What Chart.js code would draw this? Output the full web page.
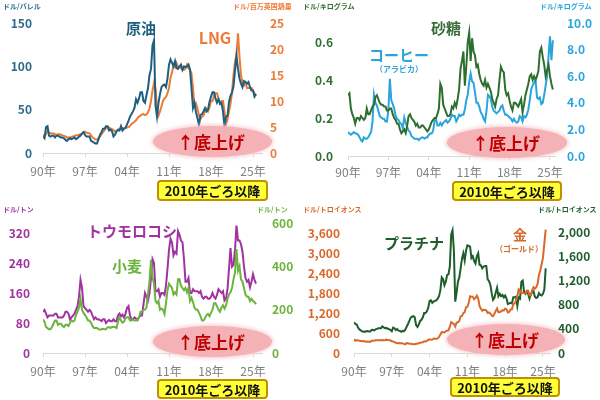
<!DOCTYPE html>
<html lang="ja">
<head>
<meta charset="UTF-8">
<title>商品価格の推移</title>
<script src="https://cdn.jsdelivr.net/npm/chart.js@4.4.1/dist/chart.umd.min.js"></script>
<style>
  body {
    margin: 0;
    width: 600px;
    height: 400px;
    position: relative;
    overflow: hidden;
    background: #fff;
    font-family: "Noto Sans CJK JP", "Noto Sans", sans-serif;
  }
  canvas { position: absolute; }
  .lbl {
    position: absolute;
    transform: translate(-50%, -50%);
    white-space: nowrap;
    font-weight: bold;
    line-height: 1;
  }
  .unit {
    position: absolute;
    font-size: 7px;
    font-weight: bold;
    white-space: nowrap;
    line-height: 1;
  }
  .oval {
    position: absolute;
    border-radius: 50%;
    background: #f4b1b6;
    box-shadow: 0 0 4px 1px #f7c6ca;
  }
  .since {
    position: absolute;
    box-sizing: border-box;
    background: #ffff3a;
    border: 2px solid #bf9000;
    border-radius: 4px;
    font-size: 13px;
    font-weight: bold;
    line-height: 17px;
    text-align: center;
    color: #111;
  }
  .up { color: #c00000; font-size: 17px; }
</style>
</head>
<body>

<canvas id="oil" width="300" height="200" style="left:0;top:0"></canvas>
<canvas id="soft" width="300" height="200" style="left:300px;top:0"></canvas>
<canvas id="grain" width="300" height="200" style="left:0;top:200px"></canvas>
<canvas id="metal" width="300" height="200" style="left:300px;top:200px"></canvas>

<!-- 原油 / LNG -->
<div class="unit" style="left:3px;top:3px;color:#2b6a8a">ドル/バレル</div>
<div class="unit" style="left:233px;top:3px;color:#ec7b36">ドル/百万英国熱量</div>
<div class="lbl" style="left:141px;top:27px;font-size:15px;color:#1d5f80">原油</div>
<div class="lbl" style="left:215px;top:37px;font-size:16px;color:#ec7b36">LNG</div>
<div class="oval" style="left:153px;top:126px;width:119px;height:31px"></div>
<div class="lbl up" style="left:211px;top:141px">↑底上げ</div>
<div class="since" style="left:157px;top:180px;width:111px;height:21px">2010年ごろ以降</div>

<!-- 砂糖 / コーヒー -->
<div class="unit" style="left:303px;top:3px;color:#2f6f2f">ドル/キログラム</div>
<div class="unit" style="left:540px;top:3px;color:#2aa5dc">ドル/キログラム</div>
<div class="lbl" style="left:446px;top:27px;font-size:15px;color:#3a6e3a">砂糖</div>
<div class="lbl" style="left:399px;top:54px;font-size:15px;color:#2aa5dc">コーヒー</div>
<div class="lbl" style="left:399px;top:69px;font-size:8px;color:#2aa5dc">（アラビカ）</div>
<div class="oval" style="left:447px;top:127px;width:120px;height:31px"></div>
<div class="lbl up" style="left:506px;top:142px">↑底上げ</div>
<div class="since" style="left:452px;top:181px;width:110px;height:20px">2010年ごろ以降</div>

<!-- トウモロコシ / 小麦 -->
<div class="unit" style="left:3px;top:206px;color:#a033a0">ドル/トン</div>
<div class="unit" style="left:257px;top:206px;color:#6cb33f">ドル/トン</div>
<div class="lbl" style="left:132px;top:230px;font-size:15px;color:#a033a0">トウモロコシ</div>
<div class="lbl" style="left:127px;top:265px;font-size:15px;color:#6cb33f">小麦</div>
<div class="oval" style="left:153px;top:326px;width:119px;height:31px"></div>
<div class="lbl up" style="left:211px;top:341px">↑底上げ</div>
<div class="since" style="left:157px;top:379px;width:111px;height:20px">2010年ごろ以降</div>

<!-- プラチナ / 金 -->
<div class="unit" style="left:303px;top:206px;color:#d9692a">ドル/トロイオンス</div>
<div class="unit" style="left:538px;top:206px;color:#1d5e2c">ドル/トロイオンス</div>
<div class="lbl" style="left:414px;top:242px;font-size:15px;color:#1d5e2c">プラチナ</div>
<div class="lbl" style="left:520px;top:234px;font-size:14px;color:#d9692a">金</div>
<div class="lbl" style="left:519px;top:249px;font-size:8px;color:#d9692a">（ゴールド）</div>
<div class="oval" style="left:447px;top:324px;width:118px;height:31px"></div>
<div class="lbl up" style="left:505px;top:339px">↑底上げ</div>
<div class="since" style="left:450px;top:377px;width:110px;height:20px">2010年ごろ以降</div>

<script>
// quarterly values, 1990 Q1 .. 2025 Q3
var crudeOil = [
    19, 17, 30, 31,  20, 19, 20, 20,  18, 20, 20, 19,  18, 18, 17, 15,
    14, 16, 17, 16,  17, 18, 16, 17,  19, 20, 22, 24,  21, 19, 19, 19,
    14, 13, 12, 11,  11, 16, 21, 24,  28, 28, 31, 31,  26, 27, 25, 19,
    21, 25, 27, 26,  31, 26, 28, 29,  33, 37, 42, 45,  48, 52, 62, 58,
    63, 70, 70, 60,  58, 67, 75, 90,  97, 124, 130, 55,  42, 58, 68, 76,
    78, 79, 76, 86,  102, 108, 104, 100,  106, 98, 97, 100,  102, 96, 100, 99,
    100, 102, 96, 75,  52, 58, 47, 40,  32, 44, 45, 48,  52, 48, 50, 59,
    65, 70, 70, 63,  58, 62, 57, 58,  48, 30, 42, 43,  59, 66, 70, 77,
    95, 112, 97, 86,  80, 76, 83, 82,  80, 82, 76, 72,  72, 65, 68
];
var lng = [
    3.5, 3.3, 3.6, 4.2,  4.0, 3.8, 3.7, 3.8,  3.6, 3.5, 3.6, 3.6,  3.5, 3.4, 3.3, 3.2,
    3.0, 3.0, 3.0, 3.1,  3.2, 3.3, 3.4, 3.4,  3.5, 3.6, 3.8, 4.0,  4.1, 3.9, 3.8, 3.8,
    3.4, 3.0, 2.8, 2.6,  2.6, 2.8, 3.2, 3.6,  4.0, 4.4, 4.8, 5.0,  4.9, 4.7, 4.6, 4.4,
    4.1, 4.2, 4.3, 4.5,  4.7, 4.8, 4.7, 4.8,  4.9, 5.0, 5.2, 5.6,  5.8, 6.0, 6.3, 6.7,
    7.0, 7.2, 7.4, 7.5,  7.3, 7.4, 7.8, 8.6,  10.0, 12.0, 13.5, 12.5,  8.5, 7.2, 8.0, 9.0,
    10.0, 10.5, 10.8, 11.5,  12.5, 14.5, 15.5, 17.0,  16.5, 17.3, 16.5, 16.5,  16.3, 16.0, 16.0, 16.2,
    17.0, 16.3, 16.0, 15.3,  12.5, 9.0, 9.5, 8.5,  7.2, 6.5, 7.0, 7.2,  8.0, 8.5, 8.0, 8.8,
    10.0, 10.0, 11.0, 11.5,  11.5, 10.5, 9.5, 10.0,  10.0, 8.0, 5.5, 6.5,  8.0, 9.5, 11.5, 15.0,
    17.5, 19.0, 23.0, 18.5,  15.0, 13.5, 13.0, 13.5,  12.5, 12.5, 12.5, 12.5,  12.0, 11.5, 11.0
];
var sugar = [
    0.32, 0.33, 0.25, 0.22,  0.20, 0.17, 0.20, 0.20,  0.19, 0.21, 0.20, 0.19,  0.20, 0.25, 0.22, 0.22,
    0.24, 0.26, 0.27, 0.31,  0.32, 0.30, 0.28, 0.27,  0.27, 0.26, 0.26, 0.24,  0.24, 0.25, 0.25, 0.22,
    0.20, 0.19, 0.17, 0.17,  0.14, 0.12, 0.13, 0.14,  0.12, 0.16, 0.21, 0.22,  0.20, 0.19, 0.18, 0.16,
    0.17, 0.15, 0.15, 0.16,  0.16, 0.15, 0.14, 0.13,  0.14, 0.16, 0.18, 0.19,  0.20, 0.20, 0.22, 0.25,
    0.38, 0.36, 0.27, 0.25,  0.23, 0.21, 0.21, 0.22,  0.26, 0.25, 0.28, 0.26,  0.30, 0.35, 0.46, 0.50,
    0.55, 0.37, 0.47, 0.60,  0.65, 0.50, 0.62, 0.55,  0.53, 0.47, 0.48, 0.43,  0.40, 0.38, 0.37, 0.40,
    0.36, 0.38, 0.36, 0.34,  0.30, 0.28, 0.26, 0.30,  0.32, 0.40, 0.47, 0.45,  0.44, 0.35, 0.32, 0.33,
    0.29, 0.26, 0.24, 0.28,  0.28, 0.27, 0.26, 0.28,  0.30, 0.23, 0.27, 0.32,  0.35, 0.38, 0.42, 0.43,
    0.40, 0.42, 0.40, 0.42,  0.45, 0.55, 0.57, 0.52,  0.48, 0.42, 0.45, 0.48,  0.42, 0.38, 0.35
];
var coffee = [
    1.8, 1.7, 1.6, 1.7,  1.8, 1.7, 1.7, 1.6,  1.4, 1.2, 1.1, 1.4,  1.3, 1.3, 1.4, 1.6,
    1.8, 2.6, 4.6, 4.0,  3.8, 3.4, 3.0, 2.9,  2.8, 2.8, 2.6, 2.6,  3.5, 5.8, 4.2, 3.9,
    3.6, 3.0, 2.8, 2.7,  2.5, 2.4, 2.1, 2.9,  2.5, 2.2, 1.9, 1.8,  1.5, 1.4, 1.3, 1.3,
    1.3, 1.2, 1.3, 1.4,  1.4, 1.3, 1.4, 1.4,  1.6, 1.7, 1.7, 1.9,  2.6, 2.8, 2.3, 2.3,
    2.5, 2.3, 2.5, 2.6,  2.7, 2.5, 2.6, 2.8,  3.1, 3.0, 3.0, 2.6,  2.8, 3.1, 3.0, 3.1,
    3.1, 3.5, 4.2, 4.6,  5.6, 6.2, 5.6, 5.5,  4.8, 4.0, 4.0, 3.7,  3.3, 3.1, 2.8, 2.6,
    3.4, 4.6, 4.5, 4.3,  3.7, 3.4, 3.3, 3.2,  3.3, 3.4, 3.7, 3.8,  3.4, 3.1, 3.1, 3.0,
    2.9, 2.8, 2.6, 2.8,  2.6, 2.5, 2.6, 3.0,  2.9, 2.6, 3.0, 2.9,  3.1, 3.5, 4.2, 5.0,
    5.3, 5.5, 5.7, 4.4,  4.3, 4.4, 3.9, 4.0,  4.6, 5.3, 6.0, 7.5,  9.0, 7.2, 8.7
];
var corn = [
    110, 115, 105, 95,  100, 100, 100, 100,  105, 105, 95, 95,  95, 95, 100, 110,
    110, 105, 90, 95,  100, 105, 115, 125,  150, 195, 175, 125,  120, 115, 110, 115,
    110, 100, 90, 95,  90, 90, 88, 85,  90, 90, 80, 85,  88, 85, 85, 90,
    85, 85, 100, 105,  98, 102, 95, 105,  120, 125, 100, 90,  90, 95, 92, 88,
    95, 100, 100, 130,  160, 150, 140, 160,  200, 250, 240, 165,  165, 170, 150, 160,
    160, 155, 180, 225,  275, 305, 295, 260,  270, 265, 325, 315,  300, 295, 250, 190,
    190, 200, 160, 160,  170, 165, 165, 165,  160, 165, 150, 145,  150, 150, 145, 145,
    150, 160, 150, 145,  155, 170, 165, 160,  165, 140, 145, 170,  225, 280, 230, 235,
    275, 340, 300, 300,  290, 270, 230, 200,  190, 195, 175, 190,  210, 195, 185
];
var wheat = [
    155, 145, 120, 115,  110, 110, 120, 135,  150, 150, 130, 135,  135, 125, 120, 130,
    130, 125, 140, 150,  145, 150, 175, 190,  210, 250, 200, 185,  175, 165, 150, 150,
    140, 125, 115, 115,  115, 110, 108, 110,  112, 110, 110, 118,  120, 115, 120, 120,
    120, 115, 145, 165,  150, 140, 145, 160,  165, 165, 150, 150,  155, 150, 150, 155,
    165, 190, 190, 200,  200, 210, 275, 330,  430, 350, 320, 240,  230, 240, 200, 205,
    200, 180, 230, 290,  320, 310, 300, 270,  280, 270, 340, 340,  310, 300, 290, 300,
    280, 300, 240, 255,  235, 210, 200, 200,  185, 170, 150, 150,  160, 175, 180, 170,
    185, 200, 230, 230,  215, 200, 190, 210,  220, 205, 220, 250,  270, 280, 300, 340,
    370, 480, 380, 400,  340, 330, 300, 270,  260, 260, 240, 250,  240, 235, 225
];
var gold = [
    410, 370, 390, 380,  365, 360, 355, 360,  350, 340, 345, 340,  330, 370, 370, 375,
    385, 380, 385, 385,  380, 388, 385, 385,  400, 390, 385, 380,  350, 345, 325, 305,
    295, 300, 290, 295,  290, 275, 260, 300,  290, 280, 275, 270,  265, 265, 275, 280,
    290, 310, 315, 320,  350, 345, 365, 390,  410, 395, 400, 435,  425, 425, 440, 485,
    555, 625, 620, 615,  650, 670, 680, 790,  925, 895, 870, 795,  910, 920, 960, 1100,
    1110, 1195, 1225, 1370,  1385, 1505, 1700, 1690,  1690, 1610, 1650, 1720,  1630, 1415, 1325, 1270,
    1295, 1290, 1280, 1200,  1220, 1190, 1125, 1105,  1180, 1260, 1335, 1220,  1220, 1255, 1280, 1275,
    1330, 1305, 1215, 1230,  1305, 1310, 1475, 1480,  1580, 1710, 1910, 1875,  1795, 1815, 1790, 1795,
    1875, 1870, 1730, 1725,  1890, 1975, 1930, 1975,  2070, 2340, 2475, 2660,  2860, 3280, 3700
];
var platinum = [
    510, 480, 470, 420,  390, 375, 355, 355,  350, 360, 365, 355,  355, 380, 385, 375,
    390, 400, 410, 410,  410, 440, 425, 410,  415, 400, 395, 380,  360, 420, 410, 380,
    395, 370, 365, 350,  365, 360, 385, 435,  480, 530, 585, 600,  610, 590, 460, 430,
    470, 530, 550, 590,  660, 660, 690, 750,  860, 870, 830, 850,  865, 870, 900, 940,
    1040, 1250, 1220, 1120,  1180, 1290, 1300, 1430,  1960, 2030, 1690, 850,  1000, 1180, 1250, 1400,
    1560, 1650, 1530, 1690,  1780, 1770, 1760, 1570,  1600, 1520, 1480, 1600,  1650, 1460, 1450, 1400,
    1430, 1440, 1440, 1220,  1190, 1130, 990, 880,  910, 1000, 1080, 940,  980, 940, 960, 920,
    950, 900, 810, 820,  830, 820, 920, 920,  930, 780, 920, 900,  1180, 1200, 1010, 980,
    1010, 980, 900, 980,  1000, 1020, 930, 910,  920, 990, 960, 950,  980, 1050, 1400
];

var yearTicks = [1990, 1997, 2004, 2011, 2018, 2025];

var years = [];
for (var i = 0; i < crudeOil.length; i++) {
    years.push(1990 + i / 4);
}

var tickFont = { family: '"Noto Sans CJK JP", "Noto Sans", sans-serif', size: 12, weight: 'bold' };

function fixTicks(list) {
    return function (scale) {
        scale.ticks = list.map(function (v) { return { value: v }; });
    };
}

function drawPanel(id, p) {
    new Chart(document.getElementById(id), {
        type: 'line',
        data: {
            datasets: p.sets.map(function (s) {
                return {
                    data: years.map(function (x, i) { return { x: x, y: s.values[i] }; }),
                    borderColor: s.color,
                    borderWidth: 2,
                    pointRadius: 0,
                    tension: 0,
                    fill: false,
                    yAxisID: s.axis
                };
            })
        },
        options: {
            responsive: false,
            animation: false,
            layout: { padding: { top: p.top } },
            plugins: { legend: { display: false }, tooltip: { enabled: false } },
            scales: {
                x: {
                    type: 'linear',
                    min: 1990,
                    max: p.xMax,
                    afterFit: function (s) { s.height = 200 - p.bottom; },
                    afterBuildTicks: fixTicks(yearTicks),
                    grid: { drawOnChartArea: false, tickLength: 4, color: '#d9d9d9' },
                    border: { color: '#d9d9d9' },
                    ticks: {
                        autoSkip: false,
                        maxRotation: 0,
                        padding: p.xPad,
                        color: '#808080',
                        font: { family: tickFont.family, size: 12 },
                        callback: function (v) { return String(v).slice(2) + '年'; }
                    }
                },
                yL: {
                    position: 'left',
                    min: 0,
                    max: p.leftMax,
                    afterFit: function (s) { s.width = p.left; },
                    afterBuildTicks: fixTicks(p.leftTicks),
                    grid: { display: false, drawTicks: false },
                    border: { display: false },
                    ticks: { padding: p.leftPad, color: p.leftColor, font: tickFont, callback: p.leftFmt }
                },
                yR: {
                    position: 'right',
                    min: 0,
                    max: p.rightMax,
                    afterFit: function (s) { s.width = 300 - p.right; },
                    afterBuildTicks: fixTicks(p.rightTicks),
                    grid: { display: false, drawTicks: false },
                    border: { display: false },
                    ticks: { padding: p.rightPad, color: p.rightColor, font: tickFont, callback: p.rightFmt }
                }
            }
        }
    });
}

function plain(v) { return String(v); }
function oneDecimal(v) { return v.toFixed(1); }
function withComma(v) { return v.toLocaleString('en-US'); }

drawPanel('oil', {
    left: 43, right: 262, top: 23, bottom: 153, xMax: 2026.5, xPad: 7,
    leftMax: 150, leftTicks: [0, 50, 100, 150], leftColor: '#2b6a8a', leftPad: 11, leftFmt: plain,
    rightMax: 25, rightTicks: [0, 5, 10, 15, 20, 25], rightColor: '#ec7b36', rightPad: 8, rightFmt: plain,
    sets: [
        { values: crudeOil, color: '#1d5f80', axis: 'yL' },
        { values: lng, color: '#ec7b36', axis: 'yR' }
    ]
});

drawPanel('soft', {
    left: 48, right: 255, top: 23, bottom: 156, xMax: 2025.87, xPad: 5,
    leftMax: 0.7, leftTicks: [0, 0.2, 0.4, 0.6], leftColor: '#2f6f2f', leftPad: 15, leftFmt: oneDecimal,
    rightMax: 10, rightTicks: [0, 2, 4, 6, 8, 10], rightColor: '#2aa5dc', rightPad: 12, rightFmt: oneDecimal,
    sets: [
        { values: sugar, color: '#2e6e2e', axis: 'yL' },
        { values: coffee, color: '#2aa5dc', axis: 'yR' }
    ]
});

drawPanel('grain', {
    left: 43, right: 262, top: 23, bottom: 153, xMax: 2026.5, xPad: 7,
    leftMax: 346.67, leftTicks: [0, 80, 160, 240, 320], leftColor: '#a033a0', leftPad: 13, leftFmt: plain,
    rightMax: 600, rightTicks: [0, 200, 400, 600], rightColor: '#6cb33f', rightPad: 10, rightFmt: plain,
    sets: [
        { values: wheat, color: '#6cb33f', axis: 'yR' },
        { values: corn, color: '#a033a0', axis: 'yL' }
    ]
});

drawPanel('metal', {
    left: 54, right: 250, top: 23, bottom: 153, xMax: 2026.3, xPad: 7,
    leftMax: 3900, leftTicks: [0, 600, 1200, 1800, 2400, 3000, 3600], leftColor: '#d9692a', leftPad: 14, leftFmt: withComma,
    rightMax: 2150, rightTicks: [0, 400, 800, 1200, 1600, 2000], rightColor: '#1d5e2c', rightPad: 8, rightFmt: withComma,
    sets: [
        { values: gold, color: '#d9692a', axis: 'yL' },
        { values: platinum, color: '#1d5e2c', axis: 'yR' }
    ]
});
</script>
</body>
</html>
